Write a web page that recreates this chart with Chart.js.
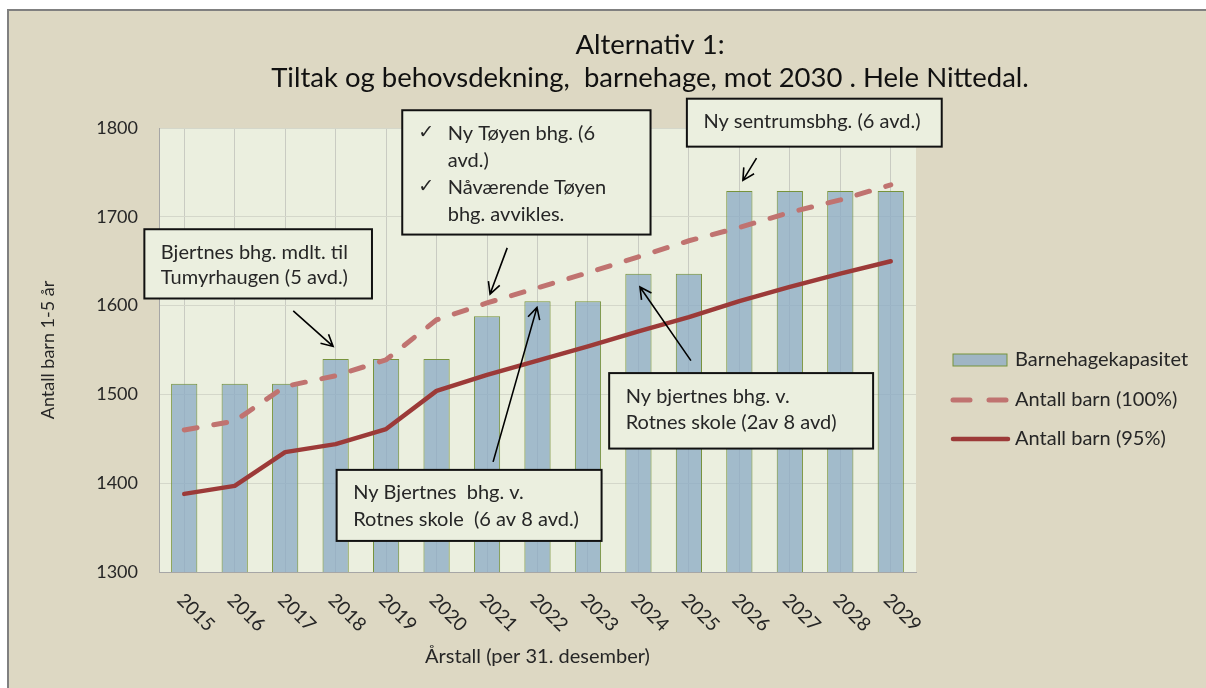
<!DOCTYPE html>
<html>
<head>
<meta charset="utf-8">
<script src="https://cdn.jsdelivr.net/npm/chart.js@4"></script>
<style>
  html, body { margin: 0; padding: 0; background: #fff; }
  canvas { display: block; }
</style>
</head>
<body>
<canvas id="chart" width="1206" height="688"></canvas>
<script>
/* ---- Data ---- */
const years = ['2015', '2016', '2017', '2018', '2019', '2020', '2021', '2022',
  '2023', '2024', '2025', '2026', '2027', '2028', '2029'];
const kapasitet = [1512, 1512, 1512, 1540, 1540, 1540, 1588, 1605, 1605, 1636, 1636, 1729, 1729, 1729, 1729];
const barn100 = [1460, 1470, 1509, 1521, 1539, 1584, 1603, 1620, 1637, 1655, 1673, 1688, 1705, 1719, 1736];
const barn95 = [1388, 1397, 1435, 1444, 1461, 1504, 1522, 1538, 1554, 1571, 1587, 1605, 1621, 1636, 1650];
const yMin = 1300, yMax = 1800, yStep = 100;

/* ---- Annotations (x in category index, y in data units) ---- */
const notes = [
  { x0: -0.79, x1: 3.72, y0: 1686, y1: 1608, gap: 25, lines: ['Bjertnes bhg. mdlt. til', 'Tumyrhaugen (5 avd.)'] },
  { x0: 4.32, x1: 9.24, y0: 1820, y1: 1680, gap: 27, checks: [0, 2],
    lines: ['Ny Tøyen bhg. (6', 'avd.)', 'Nåværende Tøyen', 'bhg. avvikles.'] },
  { x0: 9.96, x1: 15.01, y0: 1833, y1: 1779, gap: 26, lines: ['Ny sentrumsbhg. (6 avd.)'] },
  { x0: 3.02, x1: 8.27, y0: 1415, y1: 1335, gap: 26.7, lines: ['Ny Bjertnes  bhg. v.', 'Rotnes skole  (6 av 8 avd.)'] },
  { x0: 8.42, x1: 13.65, y0: 1524, y1: 1439, gap: 26, lines: ['Ny bjertnes bhg. v.', 'Rotnes skole (2av 8 avd)'] },
];
const arrows = [
  [2.16, 1594, 2.95, 1554],
  [6.40, 1665, 6.06, 1613],
  [11.34, 1766, 11.07, 1741],
  [6.12, 1424, 6.99, 1598],
  [10.04, 1538, 9.03, 1621],
];

const FONT = "Lato, 'DejaVu Sans', sans-serif";
const TEXT = '#262626';
const PLOT_BG = '#ebefdf';
const FRAME_BG = '#ddd8c3';

/* ---- Background, frame, plot area ---- */
const backdrop = {
  id: 'backdrop',
  beforeDraw(chart) {
    const { ctx, width, height, chartArea: a } = chart;
    ctx.save();
    ctx.fillStyle = '#fff';
    ctx.fillRect(0, 0, width, height);
    ctx.fillStyle = FRAME_BG;
    ctx.fillRect(7, 9, width - 7, height - 9);
    ctx.fillStyle = '#808080';
    ctx.fillRect(7, 9, width - 7, 2);
    ctx.fillRect(7, 9, 2, height - 9);
    ctx.fillStyle = PLOT_BG;
    ctx.fillRect(a.left, a.top, a.right - a.left, a.bottom - a.top);
    ctx.restore();
  }
};

function arrow(ctx, x1, y1, x2, y2) {
  const ang = Math.atan2(y2 - y1, x2 - x1);
  const head = 13, spread = Math.PI / 6.5;
  ctx.beginPath();
  ctx.moveTo(x1, y1);
  ctx.lineTo(x2, y2);
  ctx.moveTo(x2 - head * Math.cos(ang - spread), y2 - head * Math.sin(ang - spread));
  ctx.lineTo(x2, y2);
  ctx.lineTo(x2 - head * Math.cos(ang + spread), y2 - head * Math.sin(ang + spread));
  ctx.stroke();
}

/* ---- Notes, arrows, rotated year labels, legend ---- */
const extras = {
  id: 'extras',
  afterDraw(chart) {
    const { ctx } = chart;
    const xs = chart.scales.x, ys = chart.scales.y;
    const px = v => xs.getPixelForValue(v);
    const py = v => ys.getPixelForValue(v);
    ctx.save();

    // year labels, rotated clockwise
    ctx.font = '19px ' + FONT;
    ctx.fillStyle = TEXT;
    ctx.textAlign = 'left';
    ctx.textBaseline = 'middle';
    years.forEach((y, i) => {
      ctx.save();
      ctx.translate(px(i) - 4, xs.top + 25);
      ctx.rotate(Math.PI / 4);
      ctx.fillText(y, 0, 0);
      ctx.restore();
    });

    // note boxes
    notes.forEach(n => {
      const l = px(n.x0), r = px(n.x1), t = py(n.y0), b = py(n.y1);
      ctx.fillStyle = PLOT_BG;
      ctx.fillRect(l, t, r - l, b - t);
      ctx.strokeStyle = '#111';
      ctx.lineWidth = 2;
      ctx.strokeRect(l, t, r - l, b - t);
      ctx.fillStyle = TEXT;
      ctx.font = '20px ' + FONT;
      const indent = n.checks ? 29 : 0;
      n.lines.forEach((line, k) => {
        const ty = t + 23 + k * n.gap;
        if (n.checks && n.checks.includes(k)) {
          ctx.font = '19px "DejaVu Sans", sans-serif';
          ctx.fillText('✓', l + 16, ty);
          ctx.font = '20px ' + FONT;
        }
        ctx.fillText(line, l + 16.5 + indent, ty);
      });
    });

    // arrows
    ctx.strokeStyle = '#000';
    ctx.lineWidth = 1.6;
    arrows.forEach(a => arrow(ctx, px(a[0]), py(a[1]), px(a[2]), py(a[3])));

    // legend
    const ds = chart.data.datasets;
    const lx = 951, rows = [360, 400, 439];
    ctx.font = '20px ' + FONT;
    ds.forEach((d, i) => {
      const y = rows[i];
      if (d.type === 'bar') {
        ctx.fillStyle = d.backgroundColor;
        ctx.fillRect(lx + 2, y - 6, 54, 12);
        ctx.strokeStyle = d.borderColor;
        ctx.lineWidth = 1;
        ctx.strokeRect(lx + 2, y - 6, 54, 12);
      } else {
        ctx.strokeStyle = d.borderColor;
        ctx.lineWidth = d.borderWidth;
        ctx.lineCap = 'round';
        ctx.setLineDash(d.borderDash ? [17, 19] : []);
        ctx.beginPath();
        ctx.moveTo(lx + 2, y);
        ctx.lineTo(lx + 57, y);
        ctx.stroke();
        ctx.setLineDash([]);
      }
      ctx.fillStyle = TEXT;
      ctx.fillText(d.label, 1015, y);
    });

    ctx.restore();
  }
};

new Chart(document.getElementById('chart'), {
  type: 'bar',
  data: {
    labels: years,
    datasets: [
      {
        type: 'bar',
        label: 'Barnehagekapasitet',
        data: kapasitet,
        backgroundColor: 'rgba(138,170,196,0.75)',
        borderColor: '#77933c',
        borderWidth: 1,
        barPercentage: 0.52,
        categoryPercentage: 1,
        order: 3,
      },
      {
        type: 'line',
        label: 'Antall barn (100%)',
        data: barn100,
        borderColor: '#c07370',
        borderWidth: 5,
        borderDash: [13, 17],
        borderCapStyle: 'round',
        pointRadius: 0,
        tension: 0,
        order: 2,
      },
      {
        type: 'line',
        label: 'Antall barn (95%)',
        data: barn95,
        borderColor: '#9c3a38',
        borderWidth: 4.5,
        borderCapStyle: 'round',
        borderJoinStyle: 'round',
        pointRadius: 0,
        tension: 0,
        order: 1,
      },
    ]
  },
  options: {
    responsive: false,
    animation: false,
    devicePixelRatio: 1,
    layout: { padding: { left: 94, right: 0, top: 0, bottom: 0 } },
    plugins: {
      legend: { display: false },
      tooltip: { enabled: false },
      title: {
        display: true,
        text: ['Alternativ 1:', 'Tiltak og behovsdekning,  barnehage, mot 2030 . Hele Nittedal.'],
        color: '#111',
        font: { family: FONT, size: 27.5, weight: 'normal', lineHeight: 1.2 },
        padding: { top: 29, bottom: 33 },
      }
    },
    scales: {
      x: {
        grid: { offset: false, color: '#c9cbc2', drawTicks: false },
        border: { color: '#a6a6a6', width: 1 },
        ticks: { display: false },
        title: {
          display: true,
          text: 'Årstall (per 31. desember)',
          color: TEXT,
          font: { family: FONT, size: 20 },
          padding: { top: 73, bottom: 19 },
        }
      },
      y: {
        position: 'left',
        min: yMin,
        max: yMax,
        ticks: {
          stepSize: yStep, color: TEXT, padding: 21, font: { family: FONT, size: 18 },
          callback: v => String(v),
        },
        grid: { color: '#d4d7ca', drawTicks: false },
        border: { color: '#a6a6a6', width: 1 },
        afterFit: s => { s.width = 65; },
        title: {
          display: true,
          text: 'Antall barn 1-5 år',
          color: TEXT,
          font: { family: FONT, size: 18 },
          padding: { top: -56.8, bottom: 0 },
        }
      },
      spacer: {
        position: 'right',
        display: true,
        grid: { display: false },
        border: { display: false },
        ticks: { display: false },
        afterFit: s => { s.width = 290; },
      }
    }
  },
  plugins: [backdrop, extras]
});
</script>
</body>
</html>
